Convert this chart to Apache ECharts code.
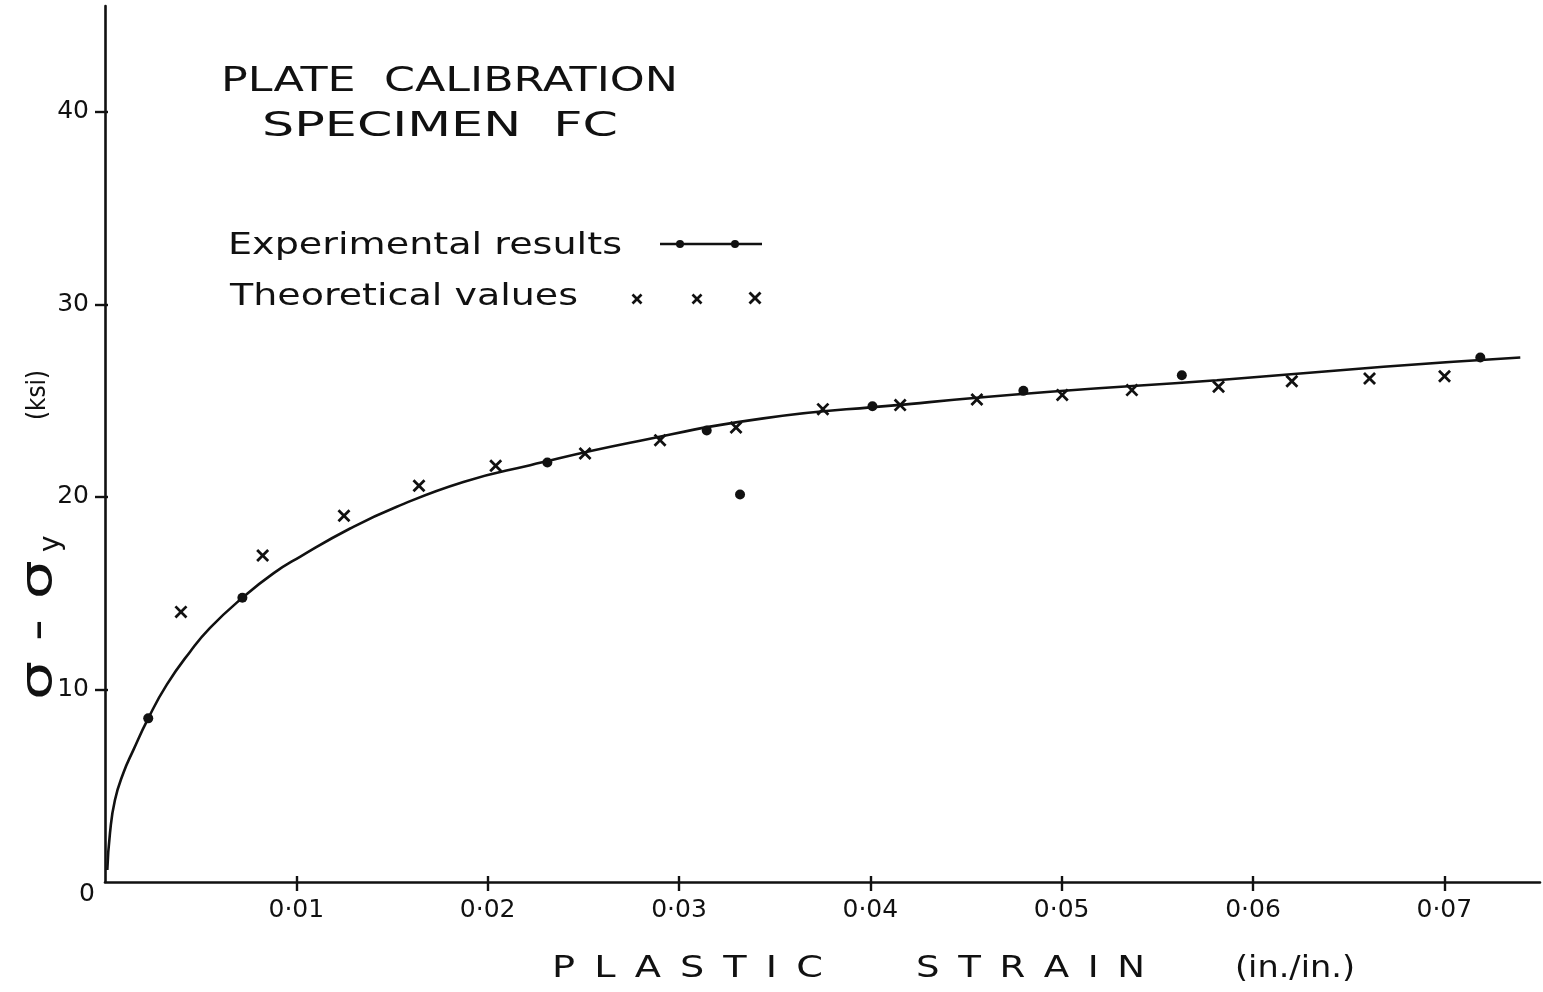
<!DOCTYPE html>
<html>
<head>
<meta charset="utf-8">
<title>Plate calibration – specimen FC</title>
<script src="https://cdn.jsdelivr.net/npm/echarts@6/dist/echarts.min.js"></script>
<style>
  html, body { margin: 0; padding: 0; background: #fff; }
  #chart { width: 1543px; height: 992px; }
</style>
</head>
<body>
<div id="chart"></div>
<script>
// Faired stress–strain curve: plastic strain (in./in.) vs σ − σy (ksi)
const curveStrain = [0.00012, 0.00026, 0.00052, 0.00096, 0.00148, 0.00226, 0.00323, 0.00444, 0.00549,
  0.00718, 0.00880, 0.01019, 0.01281, 0.01525, 0.01873, 0.02222, 0.02744, 0.03441, 0.04139,
  0.04940, 0.05811, 0.06682, 0.07397];
const curveStress = [0.62, 2.54, 4.26, 5.66, 6.85, 8.50, 10.25, 11.95, 13.20,
  14.76, 16.03, 16.89, 18.36, 19.49, 20.78, 21.65, 22.81, 24.08, 24.77,
  25.46, 26.06, 26.76, 27.24];

// Experimental results (filled dots)
const expStrain = [0.00226, 0.00718, 0.02312, 0.03145, 0.03319, 0.04011, 0.04800, 0.05628, 0.07188];
const expStress = [8.50, 14.76, 21.79, 23.45, 20.13, 24.71, 25.51, 26.32, 27.24];

// Theoretical values (crosses)
const theoStrain = [0.00397, 0.00824, 0.01249, 0.01641, 0.02042, 0.02509, 0.02901, 0.03298, 0.03752,
  0.04156, 0.04557, 0.05003, 0.05367, 0.05820, 0.06203, 0.06609, 0.07001];
const theoStress = [14.03, 16.96, 19.02, 20.58, 21.62, 22.26, 22.95, 23.61, 24.56,
  24.77, 25.06, 25.30, 25.55, 25.72, 26.01, 26.15, 26.27];

// Axis ticks and their labels
const xTickValues = [0.01, 0.02, 0.03, 0.04, 0.05, 0.06, 0.07];
const xTickLabels = ['0·01', '0·02', '0·03', '0·04', '0·05', '0·06', '0·07'];
const yTickValues = [10, 20, 30, 40];
const yTickLabels = ['10', '20', '30', '40'];

const FONT = '"DejaVu Sans", "Liberation Sans", sans-serif';
const INK = '#111';

const pairs = (xs, ys) => xs.map((x, i) => [x, ys[i]]);

// Width-fitted text: stretches a string horizontally so it spans a given width
const measureCtx = document.createElement('canvas').getContext('2d');
function fittedText(str, left, width, cy, size, extra) {
  measureCtx.font = size + 'px ' + FONT;
  const w = measureCtx.measureText(str).width;
  return Object.assign({
    type: 'text',
    x: left, y: cy,
    scaleX: width / w,
    style: {
      text: str, x: 0, y: 0,
      font: size + 'px ' + FONT,
      fill: INK,
      textAlign: 'left', textVerticalAlign: 'middle',
      align: 'left', verticalAlign: 'middle'
    }
  }, extra || {});
}

function crossMark(cx, cy, r, w) {
  return [
    { type: 'line', shape: { x1: cx - r, y1: cy - r, x2: cx + r, y2: cy + r }, style: { stroke: INK, lineWidth: w } },
    { type: 'line', shape: { x1: cx + r, y1: cy - r, x2: cx - r, y2: cy + r }, style: { stroke: INK, lineWidth: w } }
  ];
}

const crossPath = 'path://M0,1.5 L1.5,0 L10,8.5 L8.5,10 Z M8.5,0 L10,1.5 L1.5,10 L0,8.5 Z';

const chart = echarts.init(document.getElementById('chart'), null, { renderer: 'canvas' });

const xMin = 0, xMax = 0.075, yMin = 0, yMax = 45.5;

const option = {
  backgroundColor: '#fff',
  animation: false,
  grid: { left: 105, right: 3, top: 6, bottom: 110, outerBoundsMode: 'none', containLabel: false },
  xAxis: [
    {
      type: 'value', min: xMin, max: xMax,
      position: 'bottom',
      axisLine: { show: true, onZero: false, lineStyle: { color: INK, width: 2.6 } },
      axisTick: { show: true, customValues: xTickValues, length: 9, lineStyle: { color: INK, width: 2.4 } },
      axisLabel: {
        show: true, customValues: xTickValues, margin: 16,
        fontFamily: FONT, fontSize: 25, color: INK,
        formatter: v => xTickLabels[Math.round(v * 100) - 1] || ''
      },
      splitLine: { show: false }
    },
    {
      type: 'value', min: xMin, max: xMax,
      position: 'bottom',
      axisLine: { show: false },
      axisTick: { show: true, inside: true, customValues: xTickValues, length: 6, lineStyle: { color: INK, width: 2.4 } },
      axisLabel: { show: false },
      splitLine: { show: false }
    }
  ],
  yAxis: [
    {
      type: 'value', min: yMin, max: yMax,
      position: 'left',
      axisLine: { show: true, onZero: false, lineStyle: { color: INK, width: 2.6 } },
      axisTick: { show: true, customValues: yTickValues, length: 10, lineStyle: { color: INK, width: 2.4 } },
      axisLabel: {
        show: true, customValues: yTickValues, margin: 16,
        fontFamily: FONT, fontSize: 25, color: INK,
        formatter: v => yTickLabels[Math.round(v / 10) - 1] || ''
      },
      splitLine: { show: false }
    },
    {
      type: 'value', min: yMin, max: yMax,
      position: 'left',
      axisLine: { show: false },
      axisTick: { show: true, inside: true, customValues: yTickValues, length: 3, lineStyle: { color: INK, width: 2.4 } },
      axisLabel: { show: false },
      splitLine: { show: false }
    }
  ],
  series: [
    {
      name: 'Experimental results',
      type: 'line',
      xAxisIndex: 0, yAxisIndex: 0,
      data: pairs(curveStrain, curveStress),
      smooth: 0.5,
      symbol: 'none',
      lineStyle: { color: INK, width: 2.6 },
      z: 2
    },
    {
      name: 'Experimental points',
      type: 'scatter',
      xAxisIndex: 0, yAxisIndex: 0,
      data: pairs(expStrain, expStress),
      symbol: 'circle',
      symbolSize: 10,
      itemStyle: { color: INK, opacity: 1 },
      z: 3
    },
    {
      name: 'Theoretical values',
      type: 'scatter',
      xAxisIndex: 0, yAxisIndex: 0,
      data: pairs(theoStrain, theoStress),
      symbol: crossPath,
      symbolSize: 13,
      itemStyle: { color: INK, opacity: 1 },
      z: 3
    }
  ],
  graphic: [
    // title
    fittedText('PLATE  CALIBRATION', 221, 457, 82, 33),
    fittedText('SPECIMEN  FC', 262, 356, 127, 33),
    // key
    fittedText('Experimental results', 228, 394, 246, 30),
    fittedText('Theoretical values', 230, 348, 297, 30),
    { type: 'line', shape: { x1: 660, y1: 244, x2: 762, y2: 244 }, style: { stroke: INK, lineWidth: 2.4 } },
    { type: 'circle', shape: { cx: 680, cy: 244, r: 4 }, style: { fill: INK } },
    { type: 'circle', shape: { cx: 735, cy: 244, r: 4 }, style: { fill: INK } },
    ...crossMark(637, 299, 4.5, 2.6),
    ...crossMark(697, 299, 4.5, 2.6),
    ...crossMark(755, 298, 5.5, 2.8),
    // origin label
    { type: 'text', x: 87, y: 894, style: { text: '0', x: 0, y: 0, font: '25px ' + FONT, fill: INK,
      textAlign: 'center', textVerticalAlign: 'middle', align: 'center', verticalAlign: 'middle' } },
    // horizontal axis title
    fittedText('P\u2002L\u2002A\u2002S\u2002T\u2002I\u2002C', 552, 271, 969, 30),
    fittedText('S\u2002T\u2002R\u2002A\u2002I\u2002N', 916, 229, 969, 30),
    fittedText('(in./in.)', 1235, 120, 969, 30),
    // vertical axis title (reads bottom to top)
    fittedText('σ - σ', 700, 140, 40, 44, { x: 40, y: 700, rotation: Math.PI / 2 }),
    { type: 'text', x: 52, y: 552, rotation: Math.PI / 2,
      style: { text: 'y', x: 0, y: 0, font: '28px ' + FONT, fill: INK,
        textAlign: 'left', textVerticalAlign: 'middle', align: 'left', verticalAlign: 'middle' } },
    fittedText('(ksi)', 420, 50, 38, 26, { x: 38, y: 420, rotation: Math.PI / 2 })
  ]
};

chart.setOption(option);
</script>
</body>
</html>
